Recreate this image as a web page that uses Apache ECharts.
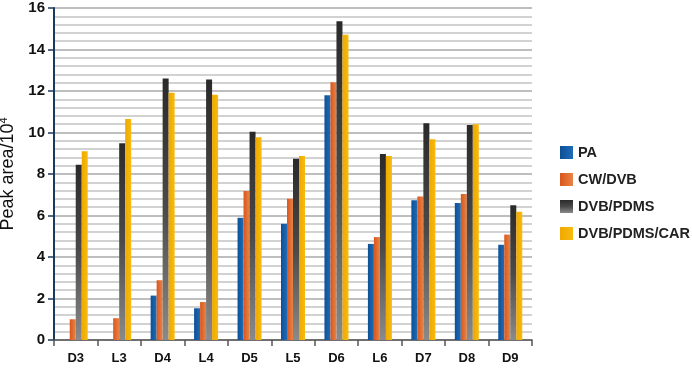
<!DOCTYPE html>
<html>
<head>
<meta charset="utf-8">
<script src="https://cdn.jsdelivr.net/npm/echarts@6/dist/echarts.min.js"></script>
<style>
    html, body { margin: 0; padding: 0; background: #fff; }
    #chart { width: 692px; height: 369px; }
</style>
</head>
<body>
<div id="chart"></div>
<script>
const categories = ['D3', 'L3', 'D4', 'L4', 'D5', 'L5', 'D6', 'L6', 'D7', 'D8', 'D9'];
const seriesNames = ['PA', 'CW/DVB', 'DVB/PDMS', 'DVB/PDMS/CAR'];
const paValues = [0, 0, 2.14, 1.53, 5.89, 5.6, 11.8, 4.63, 6.73, 6.6, 4.59];
const cwdvbValues = [1.0, 1.05, 2.88, 1.83, 7.18, 6.81, 12.42, 4.96, 6.91, 7.04, 5.08];
const dvbpdmsValues = [8.45, 9.48, 12.6, 12.56, 10.04, 8.74, 15.36, 8.96, 10.44, 10.36, 6.49];
const carValues = [9.1, 10.65, 11.92, 11.82, 9.77, 8.87, 14.71, 8.87, 9.67, 10.4, 6.18];
const yTicks = [0, 2, 4, 6, 8, 10, 12, 14, 16];

const chart = echarts.init(document.getElementById('chart'));

// 横向渐变，模仿原图柱子的立体感
function shade(c1, c2) {
    return new echarts.graphic.LinearGradient(0, 0, 1, 0, [
        { offset: 0, color: c1 },
        { offset: 1, color: c2 }
    ]);
}

function barSeries(name, data, color) {
    return {
        name: name,
        type: 'bar',
        data: data,
        barWidth: 6,
        barGap: '0%',
        itemStyle: { color: color }
    };
}

const option = {
    animation: false,
    grid: {
        left: 54,
        right: 160,
        top: 8,
        bottom: 29,
        outerBoundsMode: 'none'
    },
    legend: {
        orient: 'vertical',
        left: 555,
        top: 140,
        itemWidth: 13,
        itemHeight: 13,
        itemGap: 12,
        icon: 'rect',
        textStyle: {
            fontFamily: 'Liberation Sans',
            fontWeight: 'bold',
            fontSize: 14.5,
            color: '#222'
        },
        data: seriesNames
    },
    xAxis: {
        type: 'category',
        data: categories,
        axisLine: { lineStyle: { color: '#555', width: 1.5 } },
        axisTick: { show: true, length: 6, lineStyle: { color: '#555', width: 1.5 } },
        axisLabel: {
            margin: 12,
            fontFamily: 'Liberation Sans',
            fontWeight: 'bold',
            fontSize: 13,
            color: '#111'
        }
    },
    yAxis: {
        type: 'value',
        min: 0,
        max: 16,
        interval: 2,
        name: 'Peak area/10{sup|4}',
        nameLocation: 'middle',
        nameGap: 32,
        nameTextStyle: {
            fontFamily: 'Liberation Sans',
            fontSize: 18,
            color: '#111',
            rich: {
                sup: { fontFamily: 'Liberation Sans', fontSize: 11, verticalAlign: 'top', padding: [0, 0, 9, 0], color: '#111' }
            }
        },
        axisLine: { show: true, lineStyle: { color: '#1c3a5a', width: 2 } },
        axisTick: { show: true, length: 6, lineStyle: { color: '#1c3a5a', width: 1.5 } },
        axisLabel: {
            margin: 9,
            fontFamily: 'Liberation Sans',
            fontWeight: 'bold',
            fontSize: 15,
            color: '#111',
            formatter: function (v) { return yTicks.indexOf(v) >= 0 ? String(v) : ''; }
        },
        splitLine: { show: true, lineStyle: { color: '#a8a8a8', width: 1.5 } },
        minorTick: { show: false, splitNumber: 5 },
        minorSplitLine: { show: true, lineStyle: { color: '#c4c4c4', width: 1.5 } }
    },
    series: [
        barSeries(seriesNames[0], paValues, shade('#0d4f96', '#1f6cb8')),
        barSeries(seriesNames[1], cwdvbValues, shade('#d9561c', '#e98345')),
        barSeries(seriesNames[2], dvbpdmsValues, new echarts.graphic.LinearGradient(0, 0, 0, 1, [
            { offset: 0, color: '#2a2a2a' },
            { offset: 0.5, color: '#4a4a4a' },
            { offset: 1, color: '#8a8a8a' }
        ])),
        barSeries(seriesNames[3], carValues, shade('#f0a800', '#f7bb10'))
    ]
};

chart.setOption(option);
</script>
</body>
</html>
